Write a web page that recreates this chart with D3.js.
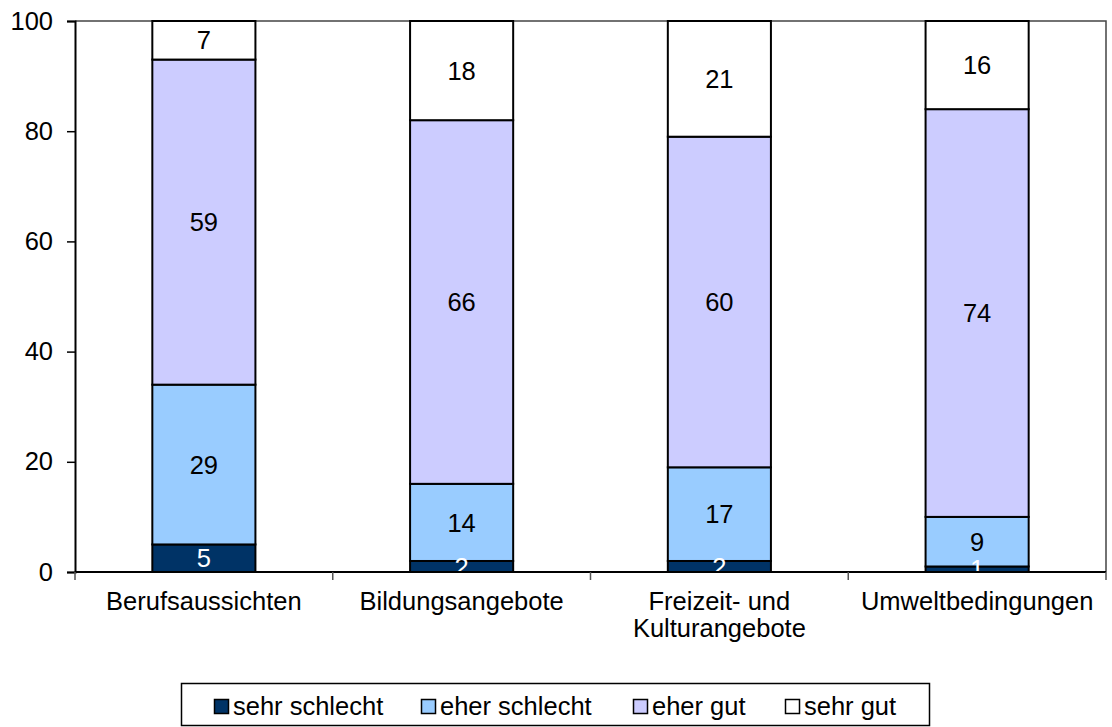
<!DOCTYPE html>
<html>
<head>
<meta charset="utf-8">
<script src="https://cdn.jsdelivr.net/npm/d3@7"></script>
<style>
body { margin: 0; background: #fff; }
svg text { font-family: "Liberation Sans", Arial, sans-serif; }
</style>
</head>
<body>
<div id="chart"></div>
<script>
const categories = ['Berufsaussichten', 'Bildungsangebote', 'Freizeit- und Kulturangebote', 'Umweltbedingungen']
const categoryLines = [['Berufsaussichten'], ['Bildungsangebote'], ['Freizeit- und', 'Kulturangebote'], ['Umweltbedingungen']]
const seriesNames = ['sehr schlecht', 'eher schlecht', 'eher gut', 'sehr gut']
const sehrSchlecht = [5, 2, 2, 1]
const eherSchlecht = [29, 14, 17, 9]
const eherGut = [59, 66, 60, 74]
const sehrGut = [7, 18, 21, 16]
const yTicks = [0, 20, 40, 60, 80, 100]
const colors = ['#003366', '#99ccff', '#ccccff', '#ffffff']
const textColors = ['#ffffff', '#000000', '#000000', '#000000']

const width = 1112, height = 727
const mLeft = 75, mRight = 1106, mTop = 21, mBottom = 572
const fontSize = 25.5

let svg = d3.select('#chart').append('svg')
.attr('width', width)
.attr('height', height)

let x = d3.scaleBand()
.domain(categories)
.range([mLeft, mRight])
.paddingInner(0.6)
.paddingOuter(0.3)

let y = d3.scaleLinear()
.domain([0, 100])
.range([mBottom, mTop])

let rows = categories.map((c, i) => ({
	cat: c,
	'sehr schlecht': sehrSchlecht[i],
	'eher schlecht': eherSchlecht[i],
	'eher gut': eherGut[i],
	'sehr gut': sehrGut[i]
}))

let stacked = d3.stack().keys(seriesNames)(rows)

// plot frame (top + right)
svg.append('path')
.attr('d', `M${mLeft},${mTop}H${mRight}V${mBottom}`)
.attr('fill', 'none')
.attr('stroke', '#444')
.attr('stroke-width', 1.5)

let layers = svg.append('g').selectAll('g')
.data(stacked)
.enter()
.append('g')
.attr('fill', (d, i) => colors[i])

layers.selectAll('rect')
.data(d => d)
.enter()
.append('rect')
.attr('x', d => x(d.data.cat))
.attr('width', x.bandwidth())
.attr('y', d => y(d[1]))
.attr('height', d => y(d[0]) - y(d[1]))
.attr('stroke', '#000')
.attr('stroke-width', 2)

// value labels above all segments
let labels = svg.append('g').selectAll('g')
.data(stacked)
.enter()
.append('g')
.attr('fill', (d, i) => textColors[i])

labels.selectAll('text')
.data(d => d)
.enter()
.append('text')
.attr('x', d => x(d.data.cat) + x.bandwidth() / 2)
.attr('y', d => (y(d[0]) + y(d[1])) / 2)
.attr('dy', '0.36em')
.attr('text-anchor', 'middle')
.attr('font-size', fontSize)
.text(d => d[1] - d[0])

// y axis
let yAxis = svg.append('g')
.attr('transform', `translate(${mLeft},0)`)
.call(d3.axisLeft(y).tickValues(yTicks).tickSize(8).tickPadding(14))
yAxis.select('.domain').attr('stroke', '#000').attr('stroke-width', 2)
yAxis.selectAll('.tick line').attr('stroke', '#000').attr('stroke-width', 1.5)
yAxis.selectAll('.tick text').attr('font-size', fontSize).attr('fill', '#000')
.style('font-family', '"Liberation Sans", Arial, sans-serif')

// x axis line + ticks at category boundaries
let xAxis = svg.append('g')
xAxis.append('line')
.attr('x1', mLeft).attr('x2', mRight)
.attr('y1', mBottom).attr('y2', mBottom)
.attr('stroke', '#000').attr('stroke-width', 2)

let boundaries = [mLeft].concat(categories.map((c, i) => mLeft + x.step() * (i + 1)))
xAxis.selectAll('.xtick')
.data(boundaries)
.enter()
.append('line')
.attr('x1', d => d).attr('x2', d => d)
.attr('y1', mBottom).attr('y2', mBottom + 8)
.attr('stroke', '#555').attr('stroke-width', 1.5)

xAxis.selectAll('.xlabel')
.data(categories)
.enter()
.append('text')
.attr('x', d => x(d) + x.bandwidth() / 2)
.attr('y', mBottom + 38)
.attr('text-anchor', 'middle')
.attr('font-size', fontSize)
.selectAll('tspan')
.data((d, i) => categoryLines[i])
.enter()
.append('tspan')
.attr('x', function () { return this.parentNode.getAttribute('x') })
.attr('dy', (d, i) => i === 0 ? 0 : 27)
.text(d => d)

// legend
let legend = svg.append('g')
legend.append('rect')
.attr('x', 181.5).attr('y', 683.5)
.attr('width', 748).attr('height', 42)
.attr('fill', '#fff')
.attr('stroke', '#000')
.attr('stroke-width', 1.5)

const legendX = [214, 421, 633, 785]
let items = legend.selectAll('.item')
.data(seriesNames)
.enter()
.append('g')
.attr('transform', (d, i) => `translate(${legendX[i]},706)`)

items.append('rect')
.attr('x', 0.5).attr('y', -6.5)
.attr('width', 14).attr('height', 14)
.attr('fill', (d, i) => colors[i])
.attr('stroke', '#000')
.attr('stroke-width', 1.5)

items.append('text')
.attr('x', 19)
.attr('dy', '0.36em')
.attr('font-size', fontSize)
.text(d => d)
</script>
</body>
</html>
